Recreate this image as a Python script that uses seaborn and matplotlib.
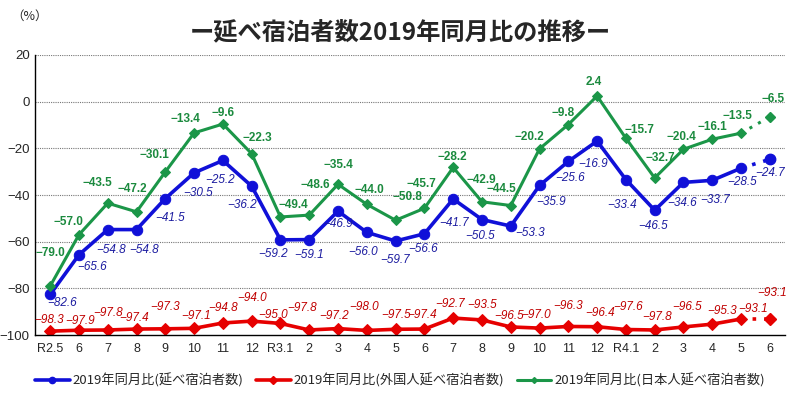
import matplotlib
matplotlib.use("Agg")
import matplotlib.pyplot as plt
import seaborn as sns
import pandas as pd
from matplotlib.lines import Line2D

sns.set_style("white")
plt.rcParams['font.family'] = ['Liberation Sans', 'Noto Sans CJK JP', 'DejaVu Sans']
plt.rcParams['axes.unicode_minus'] = True

months = ["R2.5", "6", "7", "8", "9", "10", "11", "12",
          "R3.1", "2", "3", "4", "5", "6", "7", "8", "9", "10", "11", "12",
          "R4.1", "2", "3", "4", "5", "6"]
total = [-82.6, -65.6, -54.8, -54.8, -41.5, -30.5, -25.2, -36.2,
         -59.2, -59.1, -46.9, -56.0, -59.7, -56.6, -41.7, -50.5, -53.3, -35.9, -25.6, -16.9,
         -33.4, -46.5, -34.6, -33.7, -28.5, -24.7]
foreign = [-98.3, -97.9, -97.8, -97.4, -97.3, -97.1, -94.8, -94.0,
           -95.0, -97.8, -97.2, -98.0, -97.5, -97.4, -92.7, -93.5, -96.5, -97.0, -96.3, -96.4,
           -97.6, -97.8, -96.5, -95.3, -93.1, -93.1]
japanese = [-79.0, -57.0, -43.5, -47.2, -30.1, -13.4, -9.6, -22.3,
            -49.4, -48.6, -35.4, -44.0, -50.8, -45.7, -28.2, -42.9, -44.5, -20.2, -9.8, 2.4,
            -15.7, -32.7, -20.4, -16.1, -13.5, -6.5]
names = ["2019年同月比(延べ宿泊者数)", "2019年同月比(外国人延べ宿泊者数)", "2019年同月比(日本人延べ宿泊者数)"]

# label offsets in pixels (dx right, dy down)
off_total = [(12, 9), (13, 12), (3, 20), (8, 20), (5, 19), (4, 20), (-3, 20), (-10, 19), (-7, 14),
             (0, 15), (0, 13), (-4, 20), (-1, 19), (-1, 15), (1, 24), (-2, 16), (19, 7), (12, 17),
             (2, 17), (-4, 23), (-4, 25), (-2, 16), (-1, 21), (3, 20), (1, 14), (0, 14)]
off_foreign = [(-1, -11), (1, -9), (0, -17), (-2, -11), (0, -22), (2, -12), (0, -15), (0, -23),
               (-7, -8), (-7, -22), (-4, -13), (-3, -23), (0, -14), (-2, -14), (-3, -14), (0, -15),
               (-2, -11), (-3, -13), (0, -20), (3, -14), (2, -23), (2, -13), (4, -20), (10, -13),
               (12, -10), (2, -26)]
off_japanese = [(0, -33), (-11, -13), (-10, -20), (-4, -23), (-11, -17), (-9, -14), (0, -11), (6, -16),
                (13, -12), (6, -30), (0, -19), (3, -14), (12, -23), (-3, -24), (-1, -10), (-1, -22),
                (-9, -17), (-10, -12), (-5, -12), (-3, -14), (14, -8), (6, -20), (-2, -12), (0, -12),
                (-4, -17), (3, -18)]

series = [
    (total, "#1010d8", "o", 7.5, 2.6, off_total, "#1c1ca0", dict(style="italic")),
    (foreign, "#e60000", "D", 6.5, 2.6, off_foreign, "#c00000", dict(style="italic")),
    (japanese, "#1b9648", "D", 5, 2.2, off_japanese, "#1b8a3e", dict(weight="bold")),
]

x = list(range(len(months)))
fig = plt.figure(figsize=(8, 3.98), dpi=100)
ax = fig.add_axes([0.044, 0.158, 0.937, 0.704])

handles = []
for (vals, col, mk, ms, lw, offs, tcol, fkw), name in zip(series, names):
    df = pd.DataFrame({"x": x, "y": vals})
    sns.lineplot(data=df.iloc[:-1], x="x", y="y", color=col, marker=mk, markersize=ms,
                 markeredgecolor=col, linewidth=lw, ax=ax)
    sns.lineplot(data=df.iloc[-2:], x="x", y="y", color=col, linestyle=(0, (1, 2.2)),
                 linewidth=lw, ax=ax)
    ax.plot(x[-1], vals[-1], marker=mk, markersize=ms, color=col, markeredgecolor=col)
    for xi, v, (dx, dy) in zip(x, vals, offs):
        ax.annotate(f"{v:.1f}".replace("-", "\u2212"), (xi, v), xytext=(dx, -dy),
                    textcoords="offset pixels", ha="center", va="center",
                    fontsize=8.5, color=tcol, **fkw)
    handles.append(Line2D([0], [0], color=col, marker=mk, markersize=ms * 0.6, linewidth=lw))

ax.set_xlim(-0.52, 25.52)
ax.set_ylim(-100, 20)
ax.set_yticks([20, 0, -20, -40, -60, -80, -100])
ax.set_xticks(x)
ax.set_xticklabels(months, fontsize=9)
ax.set_xticks([i + 0.5 for i in x[:-1]], minor=True)
ax.tick_params(axis="x", which="major", length=0, pad=6)
ax.tick_params(axis="x", which="minor", direction="in", length=4, width=0.8, color="black")
ax.tick_params(axis="y", direction="out", length=2, labelsize=9.5, pad=2)
ax.set_xlabel("")
ax.set_ylabel("")
for yv in [20, 0, -20, -40, -60, -80]:
    ax.axhline(yv, color="#777777", linestyle=(0, (1, 1)), linewidth=0.8, zorder=0)
for s in ["top", "right"]:
    ax.spines[s].set_visible(False)
for s in ["left", "bottom"]:
    ax.spines[s].set_color("black")
    ax.spines[s].set_linewidth(1.0)

fig.text(0.5, 0.918, "ー延べ宿泊者数2019年同月比の推移ー", ha="center", va="center",
         fontsize=17.5, fontweight="bold", family=["Noto Sans CJK JP", "DejaVu Sans"])
fig.text(0.014, 0.96, "（%）", ha="left", va="center", fontsize=9,
         family=["Noto Sans CJK JP", "DejaVu Sans"])

fig.legend(handles, names, loc="center", bbox_to_anchor=(0.5, 0.045), ncol=3, frameon=False,
           prop={"family": ["Noto Sans CJK JP", "DejaVu Sans"], "size": 9.5},
           handlelength=2.6, handletextpad=0.2, columnspacing=1.0)

fig.savefig("out.png", dpi=100)
